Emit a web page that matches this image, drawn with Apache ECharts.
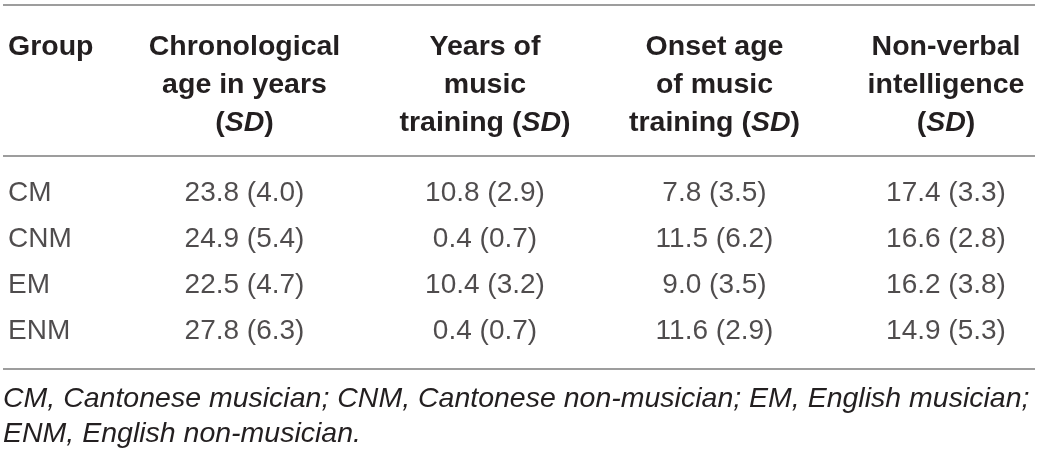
<!DOCTYPE html>
<html>
<head>
<meta charset="utf-8">
<script src="https://cdn.jsdelivr.net/npm/echarts@6/dist/echarts.min.js"></script>
<style>
  html, body { margin: 0; padding: 0; background: #fff; }
  #main { width: 1039px; height: 455px; }
</style>
</head>
<body>
<div id="main"></div>
<script>
// table content
var columns = ['Group', 'Chronological age in years (SD)', 'Years of music training (SD)',
    'Onset age of music training (SD)', 'Non-verbal intelligence (SD)'];
var headerLines = [
    ['Group', '', ''],
    ['Chronological', 'age in years', '(SD)'],
    ['Years of', 'music', 'training (SD)'],
    ['Onset age', 'of music', 'training (SD)'],
    ['Non-verbal', 'intelligence', '(SD)']
];
var groups = ['CM', 'CNM', 'EM', 'ENM'];
var ageMean = [23.8, 24.9, 22.5, 27.8];
var ageSd = [4.0, 5.4, 4.7, 6.3];
var trainYearsMean = [10.8, 0.4, 10.4, 0.4];
var trainYearsSd = [2.9, 0.7, 3.2, 0.7];
var onsetMean = [7.8, 11.5, 9.0, 11.6];
var onsetSd = [3.5, 6.2, 3.5, 2.9];
var iqMean = [17.4, 16.6, 16.2, 14.9];
var iqSd = [3.3, 2.8, 3.8, 5.3];
var footnote = 'CM, Cantonese musician; CNM, Cantonese non-musician; EM, English musician;\nENM, English non-musician.';

var textColor = '#231f20';
var ruleColor = '#9d9d9d';
// columns are not evenly spaced in the original, small horizontal nudge (px)
var colNudge = [0, 2, 8, 3, 0];

// header text: bold, "SD" in italics
function headerRich(lines) {
    return lines.map(function (line) {
        if (line === '') {
            return '{b| }';
        }
        var i = line.indexOf('(SD)');
        if (i < 0) {
            return '{b|' + line + '}';
        }
        var pre = line.slice(0, i);
        return (pre ? '{b|' + pre + '}' : '') + '{b|(}{bi|SD}{b|)}';
    }).join('\n');
}

var cellSets = [
    [ageMean, ageSd],
    [trainYearsMean, trainYearsSd],
    [onsetMean, onsetSd],
    [iqMean, iqSd]
];

var cellData = [];
groups.forEach(function (g, r) {
    cellData.push({
        value: [0, r, g],
        label: {align: 'left'}
    });
    cellSets.forEach(function (set, c) {
        cellData.push({
            value: [c + 1, r, set[0][r].toFixed(1) + ' (' + set[1][r].toFixed(1) + ')'],
            label: {offset: [colNudge[c + 1], 0]}
        });
    });
});

var chart = echarts.init(document.getElementById('main'));
chart.setOption({
    animation: false,
    backgroundColor: '#fff',
    grid: {left: 8, width: 938, top: 193, height: 138},
    xAxis: {
        type: 'category',
        position: 'top',
        boundaryGap: false,
        data: columns.map(function (c, i) {
            if (i === 0) {
                return {value: c, textStyle: {align: 'left'}};
            }
            return {value: c, textStyle: {padding: [0, 0, 0, colNudge[i] * 2]}};
        }),
        axisLine: {show: false},
        axisTick: {show: false},
        splitLine: {show: false},
        axisLabel: {
            interval: 0,
            margin: 51,
            formatter: function (v, i) {
                return headerRich(headerLines[i]);
            },
            rich: {
                b: {fontFamily: 'Liberation Sans', fontWeight: 'bold', fontSize: 28.5,
                    lineHeight: 38, color: textColor},
                bi: {fontFamily: 'Liberation Sans', fontWeight: 'bold', fontStyle: 'italic',
                    fontSize: 28.5, lineHeight: 38, color: textColor}
            }
        }
    },
    yAxis: {
        type: 'category',
        inverse: true,
        boundaryGap: false,
        data: groups,
        show: false
    },
    series: [{
        type: 'scatter',
        symbolSize: 1,
        itemStyle: {color: 'rgba(0,0,0,0)'},
        data: cellData,
        label: {
            show: true,
            position: 'inside',
            formatter: function (p) { return p.value[2]; },
            fontFamily: 'Liberation Sans',
            fontSize: 28,
            color: textColor
        }
    }],
    graphic: [
        {type: 'line', shape: {x1: 3, y1: 5, x2: 1035, y2: 5},
            style: {stroke: ruleColor, lineWidth: 2}},
        {type: 'line', shape: {x1: 3, y1: 156, x2: 1035, y2: 156},
            style: {stroke: ruleColor, lineWidth: 2}},
        {type: 'line', shape: {x1: 3, y1: 369, x2: 1035, y2: 369},
            style: {stroke: ruleColor, lineWidth: 2}},
        {type: 'text', left: 3, top: 382,
            style: {text: footnote, fontFamily: 'Liberation Sans', fontStyle: 'italic',
                fontSize: 28.5, lineHeight: 35, fill: textColor}}
    ]
});
</script>
</body>
</html>
